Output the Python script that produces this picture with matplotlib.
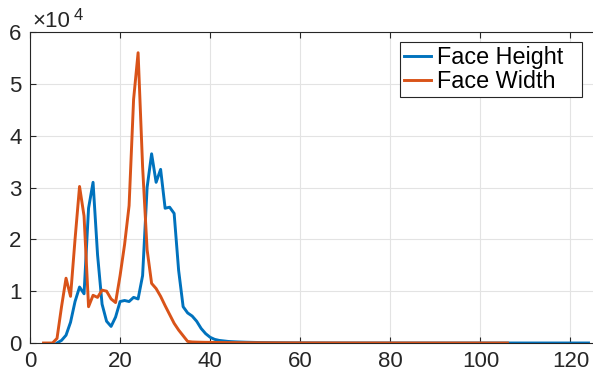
import matplotlib
matplotlib.use('Agg')
import matplotlib.pyplot as plt
import numpy as np

# Face Height histogram (x = 6 .. 124)
height_x = np.arange(6, 125)
height_counts = [
    0, 500, 1500, 4000, 8000, 10800, 9500, 26000, 31000, 17000,
    7500, 4200, 3200, 5000, 8000, 8200, 8000, 8800, 8500, 13000,
    30000, 36500, 31000, 33500, 26000, 26200, 25000, 14000, 7000, 5800,
    5200, 4200, 2800, 1800, 1100, 700, 500, 400, 300,
    250, 210, 180, 150, 130, 110, 95, 85, 75, 65,
    58, 52, 46, 40, 36, 32, 29, 26, 24, 22,
    20, 18, 16, 15, 14, 13, 12, 11, 10, 10,
    9, 9, 8, 8, 7, 7, 6, 6, 6, 5,
    5, 5, 5, 4, 4, 4, 4, 3, 3, 3,
    3, 3, 3, 2, 2, 2, 2, 2, 2, 2,
    2, 2, 2, 2, 1, 1, 1, 1, 1, 1,
    1, 1, 1, 1, 1, 1, 1, 1, 1, 1,
]

# Face Width histogram (x = 3 .. 106)
width_x = np.arange(3, 107)
width_counts = [
    0, 0, 0, 900, 7000, 12500, 9000, 20000, 30200, 24500,
    7000, 9200, 8800, 10200, 10000, 8500, 7800, 13000, 19000, 26500,
    47000, 56000, 34000, 18000, 11500, 10500, 9000, 7200, 5500, 3800,
    2500, 1400, 300,
    200, 170, 150, 130, 120, 110, 100, 90, 80, 75,
    70, 65, 60, 55, 50, 46, 42, 38, 35, 32,
    30, 28, 26, 24, 22, 20, 19, 18, 17, 16,
    15, 14, 13, 12, 11, 10, 10, 9, 9, 8,
    8, 7, 7, 6, 6, 6, 5, 5, 5, 4,
    4, 4, 4, 3, 3, 3, 3, 3, 2, 2,
    2, 2, 2, 2, 2, 1, 1, 1, 1, 1,
    1,
]

x_ticks = [0, 20, 40, 60, 80, 100, 120]
y_ticks = [0, 10000, 20000, 30000, 40000, 50000, 60000]
y_labels = ['0', '1', '2', '3', '4', '5', '6']

blue = '#0072BD'
orange = '#D95319'
dark = '#262626'
fs = 16

plt.rcParams['font.family'] = ['Liberation Sans', 'DejaVu Sans']

fig = plt.figure(figsize=(5.93, 3.76), dpi=100)
ax = fig.add_axes([30 / 593, 33 / 376, 563 / 593, 311 / 376])

ax.plot(height_x, height_counts, color=blue, lw=2.1, label='Face Height')
ax.plot(width_x, width_counts, color=orange, lw=2.1, label='Face Width')

ax.set_xlim(0, 125)
ax.set_ylim(0, 60000)
ax.set_xticks(x_ticks)
ax.set_yticks(y_ticks, y_labels)

# exponent label in MATLAB style
fig.text(32 / 593, 1 - 27 / 376, '\u00d710', fontsize=fs, color=dark,
         ha='left', va='baseline')
fig.text(74 / 593, 1 - 20 / 376, '4', fontsize=fs * 0.75, color=dark,
         ha='left', va='baseline')

ax.grid(True, color='#e3e3e3', lw=0.8)
ax.set_axisbelow(True)
ax.tick_params(direction='in', length=4, width=0.8, colors=dark,
               labelsize=fs, pad=6, top=True)
for s in ['left', 'bottom', 'top']:
    ax.spines[s].set_color(dark)
    ax.spines[s].set_linewidth(0.8)
ax.spines['right'].set_visible(False)

# legend box stretched to MATLAB width
leg = ax.legend(loc='upper left', bbox_to_anchor=(0.657, 0.5, 0.323, 0.467),
                mode='expand', fontsize=16.8, fancybox=False, framealpha=1,
                edgecolor=dark, handlelength=1.15, handletextpad=0.25,
                labelspacing=0.02, borderpad=0.18, borderaxespad=0)
leg.get_frame().set_linewidth(0.8)

fig.savefig('out.png', dpi=100)
